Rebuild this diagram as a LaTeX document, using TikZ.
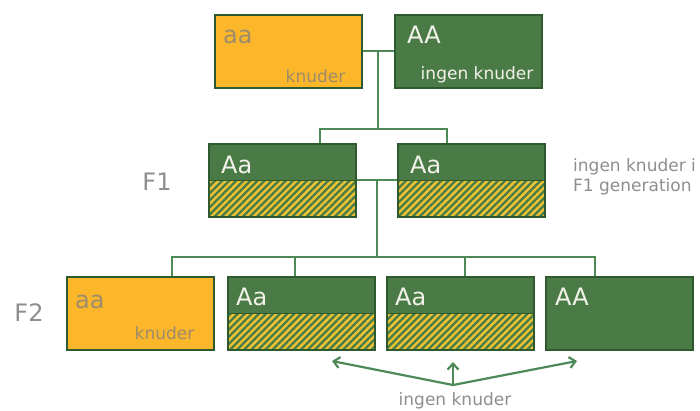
\documentclass[tikz,border=0pt]{standalone}
\usepackage{fontspec}
\setmainfont{DejaVu Sans}
\usepackage{tikz}
\usetikzlibrary{arrows.meta,calc,patterns.meta}
\definecolor{leaf}{HTML}{4A7A46}
\definecolor{leafline}{HTML}{2F5A2F}
\definecolor{stem}{HTML}{4E8A58}
\definecolor{amber}{HTML}{FCB62A}
\definecolor{straw}{HTML}{EAC234}
\definecolor{ash}{HTML}{8E8E8E}
\definecolor{mud}{HTML}{9C8C6A}
\definecolor{chalk}{HTML}{F2F2EA}
\tikzset{
  box/.style={draw=leafline, line width=1.5pt, anchor=north west,
    minimum width=147pt, minimum height=73pt, inner sep=0pt},
  rec/.style={box, fill=amber},
  dom/.style={box, fill=leaf},
  het/.style={box, fill=leaf, path picture={
    \fill[straw] (path picture bounding box.west) rectangle (path picture bounding box.south east);
    \fill[pattern={Lines[angle=45,distance=5pt,line width=2.3pt]}, pattern color=leaf]
      (path picture bounding box.west) rectangle (path picture bounding box.south east);
    \draw[leafline, line width=1.5pt] (path picture bounding box.west) -- (path picture bounding box.east);}},
  big/.style={font=\fontsize{24}{28}\selectfont, anchor=west, inner sep=0pt},
  small/.style={font=\fontsize{17}{20}\selectfont, inner sep=0pt},
  con/.style={draw=stem, line width=1.8pt},
  arr/.style={stem, line width=2.2pt, -{Straight Barb[length=6pt,width=11pt]}}
}
\begin{document}
\begin{tikzpicture}[x=1pt,y=-1pt]
\useasboundingbox (0,0) rectangle (700,410);
% parents
\node[rec] (paa) at (214,14) {};
\node[dom] (pAA) at (394,14) {};
\node[big, text=mud] (tpaa) at ([xshift=9pt,yshift=-23pt]paa.north west) {aa};
\node[small, text=mud, anchor=east] (kpaa) at ([xshift=-17pt,yshift=12pt]paa.south east) {knuder};
\node[big, text=chalk] (tpAA) at ([xshift=13pt,yshift=-21pt]pAA.north west) {AA};
\node[small, text=chalk, anchor=east] (kpAA) at ([xshift=-9pt,yshift=14pt]pAA.south east) {ingen knuder};
% F1
\node[big, text=ash, anchor=center] (lf1) at (157,182) {F1};
\node[het] (f1a) at (208,143) {};
\node[het] (f1b) at (397,143) {};
\node[big, text=chalk] (tf1a) at ([xshift=13pt,yshift=-22pt]f1a.north west) {Aa};
\node[big, text=chalk] (tf1b) at ([xshift=13pt,yshift=-22pt]f1b.north west) {Aa};
\node[small, text=ash, anchor=west, align=left] (nf1) at (573,177) {ingen knuder i\\F1 generation};
% F2
\node[big, text=ash, anchor=center] (lf2) at (29,313) {F2};
\node[rec] (f2a) at (66,276) {};
\node[het] (f2b) at (227,276) {};
\node[het] (f2c) at (386,276) {};
\node[dom] (f2d) at (545,276) {};
\node[big, text=mud] (tf2a) at ([xshift=9pt,yshift=-26pt]f2a.north west) {aa};
\node[small, text=mud, anchor=east] (kf2a) at ([xshift=-20pt,yshift=17pt]f2a.south east) {knuder};
\node[big, text=chalk] (tf2b) at ([xshift=9pt,yshift=-21pt]f2b.north west) {Aa};
\node[big, text=chalk] (tf2c) at ([xshift=9pt,yshift=-21pt]f2c.north west) {Aa};
\node[big, text=chalk] (tf2d) at ([xshift=10pt,yshift=-21pt]f2d.north west) {AA};
% crossings
\draw[con] (paa.east) -- (pAA.west);
\coordinate (j0) at ($(paa.east)!0.5!(pAA.west)$);
\draw[con] (j0) -- ++(0,78) coordinate (j1);
\draw[con] ([xshift=38pt]f1a.north) |- (j1) -| ([xshift=-24pt]f1b.north);
\draw[con] (f1a.east) -- (f1b.west);
\coordinate (j2) at ($(f1a.east)!0.5!(f1b.west)$);
\draw[con] (j2) -- ++(0,77) coordinate (j3);
\draw[con] ([xshift=32pt]f2a.north) |- (j3) -| ([xshift=-24pt]f2d.north);
\draw[con] ([xshift=-6pt]f2b.north) -- ([xshift=-6pt]f2b.north |- j3);
\draw[con] ([xshift=5pt]f2c.north) -- ([xshift=5pt]f2c.north |- j3);
% arrows
\coordinate (src) at (453,385);
\coordinate (tipl) at (332,361);
\coordinate (tipm) at (453,362);
\coordinate (tipr) at (577,361);
\draw[arr] (src) -- (tipl);
\draw[arr] (src) -- (tipm);
\draw[arr] (src) -- (tipr);
\node[small, text=ash] (nf2) at (455,401) {ingen knuder};
\end{tikzpicture}
\end{document}
